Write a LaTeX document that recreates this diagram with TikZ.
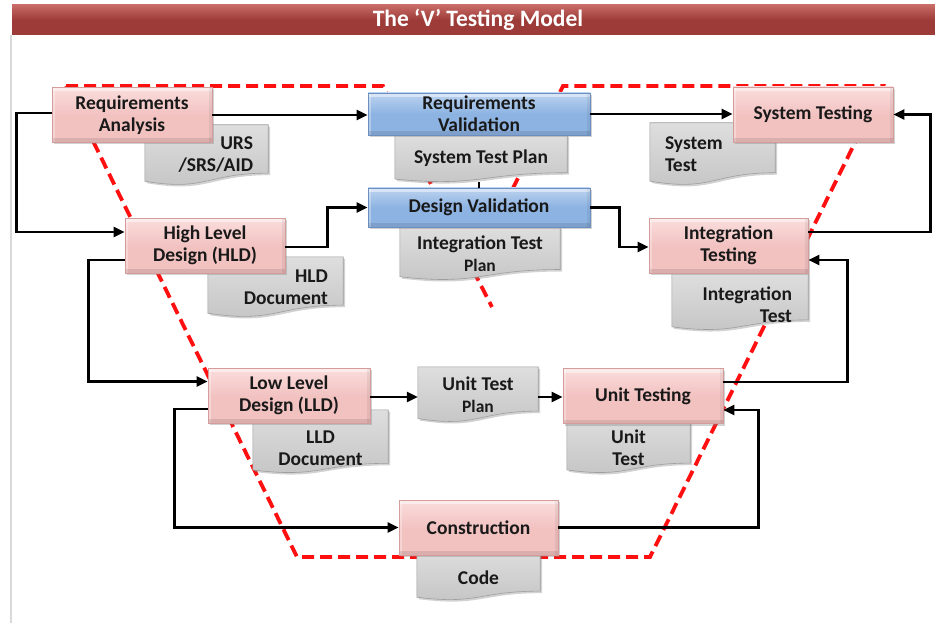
\documentclass[tikz,border=0pt]{standalone}
\usepackage{fontspec}
\setmainfont{Carlito}
\usetikzlibrary{arrows.meta,shadows,calc}
\pgfdeclarelayer{paper}
\pgfdeclarelayer{vline}
\pgfdeclarelayer{docbg}
\pgfsetlayers{paper,vline,docbg,main}

\definecolor{barred}{HTML}{9C3B38}
\definecolor{bartop}{HTML}{C86A66}
\definecolor{pinkfill}{HTML}{F2C2C1}
\definecolor{pinktop}{HTML}{FADEDD}
\definecolor{pinkline}{HTML}{D49C9A}
\definecolor{bluefill}{HTML}{8DB3E2}
\definecolor{bluetop}{HTML}{BCD3F0}
\definecolor{blueline}{HTML}{6A8FC0}
\definecolor{docfill}{HTML}{C4C4C4}
\definecolor{doctop}{HTML}{DEDEDE}
\definecolor{docline}{HTML}{9E9E9E}
\definecolor{vred}{HTML}{FF1010}

\tikzset{
  phase/.style={rectangle, inner sep=0pt, draw=pinkline, line width=0.8pt,
    top color=pinktop, bottom color=pinkfill, middle color=pinkfill,
    minimum width=160pt, minimum height=55pt, align=center,
    font=\fontsize{19.5}{22}\selectfont\bfseries, text=black!90,
    path picture={
      \fill[white, opacity=0.45] (path picture bounding box.north west) rectangle ([yshift=-4pt]path picture bounding box.north east);
      \fill[white, opacity=0.3] (path picture bounding box.north west) rectangle ([xshift=3pt]path picture bounding box.south west);
      \fill[black, opacity=0.1] ([yshift=4pt]path picture bounding box.south west) rectangle (path picture bounding box.south east);
      \fill[black, opacity=0.06] ([xshift=-3pt]path picture bounding box.north east) rectangle (path picture bounding box.south east);},
    drop shadow={opacity=0.35, shadow xshift=2pt, shadow yshift=-2pt}},
  check/.style={phase, draw=blueline, top color=bluetop, bottom color=bluefill,
    middle color=bluefill, minimum width=222pt},
  doc/.style={rectangle, inner sep=0pt, inner xsep=15pt,
    font=\fontsize{19.5}{22}\selectfont\bfseries, text=black!90},
  docshape/.style={draw=docline, line width=0.6pt, top color=doctop, bottom color=docfill,
    drop shadow={opacity=0.35, shadow xshift=2pt, shadow yshift=-2pt}},
  flow/.style={line width=2.4pt, -{Triangle[length=11pt,width=10pt]}},
  vshape/.style={vred, line width=3.8pt, dash pattern=on 12pt off 6pt}
}

\begin{document}
\begin{tikzpicture}[x=1pt,y=-1pt]
\useasboundingbox (0,0) rectangle (935,623);
\begin{pgfonlayer}{paper}
\fill[white] (0,0) rectangle (935,623);
\end{pgfonlayer}

% title bar
\shade[top color=bartop, bottom color=barred, middle color=barred] (12,5) rectangle (935,35);
\node[font=\fontsize{23.5}{26}\selectfont\bfseries, text=white] (title) at (478,20) {The ‘V’ Testing Model};
\draw[black!15, line width=1.5pt] (11,35) -- (11,623);

% the V
\begin{pgfonlayer}{vline}
\draw[vshape] (66,86) -- (383,86) -- (473,270) -- (563,86) -- (883,86) -- (650,557) -- (297,557) -- cycle;
\draw[vshape] (473,270) -- (492,307);
\end{pgfonlayer}

% documents
\node[doc, text width=93pt, align=right, minimum height=60pt] (urs) at (206.5,155) {URS\\/SRS/AID};
\node[doc, minimum width=172pt, minimum height=47pt, align=center] (stp) at (481,158.5) {System Test Plan};
\node[doc, minimum width=160pt, minimum height=53pt, align=center] (itp) at (480,253.5) {Integration Test\\{\fontsize{17.5}{20}\selectfont\bfseries Plan}};
\node[doc, text width=105pt, align=right, minimum height=60pt] (hldd) at (275.5,287) {HLD\\Document};
\node[doc, text width=95pt, align=left, minimum height=62pt] (sdoc) at (712.5,154) {System\\Test};
\node[doc, inner xsep=16pt, text width=104pt, align=right, minimum height=51pt] (itd) at (740,304.5) {Integration\\Test};
\node[doc, minimum width=135pt, minimum height=49pt, align=center] (lldd) at (320.5,448.5) {LLD\\Document};
\node[doc, minimum width=120pt, minimum height=55pt, align=center] (utp) at (478,394.5) {Unit Test\\{\fontsize{17.5}{20}\selectfont\bfseries Plan}};
\node[doc, minimum width=123pt, minimum height=50pt, align=center] (udoc) at (628.5,448) {Unit\\Test};
\node[doc, minimum width=123pt, minimum height=45pt, align=center] (code) at (478.5,577.5) {Code};

\begin{pgfonlayer}{docbg}
\foreach \dname/\dup in {urs/0,stp/0,itp/0,hldd/0,sdoc/0,itd/6,lldd/14,utp/0,udoc/8,code/6}
  \path[docshape] let \p1=(\dname.north west), \p2=(\dname.south east) in
    (\x1,{\y1+\dup}) -- (\x2,{\y1+\dup}) -- (\x2,{\y2+0.2*(\y1-\y2)})
    .. controls ({0.5*(\x1+\x2)},{\y2+0.2*(\y1-\y2)}) and ({0.5*(\x1+\x2)},{\y2-0.107*(\y1-\y2)})
    .. (\x1,{\y2+0.066*(\y1-\y2)}) -- cycle;
\end{pgfonlayer}

% phases
\node[phase] (ra) at (132,115) {Requirements\\Analysis};
\node[check, minimum height=42pt] (rv) at (479,114) {Requirements\\Validation};
\node[phase] (st) at (813,114.5) {System Testing};
\node[phase] (hld) at (205,245.5) {High Level\\Design (HLD)};
\node[check, minimum height=39pt] (dv) at (479,207.5) {Design Validation};
\node[phase, minimum width=159pt] (it) at (728.5,245.5) {Integration\\Testing};
\node[phase, minimum width=162pt] (lld) at (289,395.5) {Low Level\\Design (LLD)};
\node[phase] (ut) at (643,396) {Unit Testing};
\node[phase, minimum width=159pt] (con) at (478.5,527.5) {Construction};

% connectors
\draw[flow] (ra.east) -- (ra.east -| rv.west);
\draw[flow] (rv.east) -- (rv.east -| st.west);
\draw[flow] ([yshift=2pt]ra.west) -- ++(-35,0) |- ([yshift=13.5pt]hld.west);
\draw[flow] ([yshift=-1.5pt]hld.east) -- ++(42,0) |- (dv.west);
\draw[flow] (dv.east) -- ++(29,0) |- ([yshift=-1.5pt]it.west);
\draw[flow] ([yshift=13.5pt]it.east) -- ++(122,0) |- (st.east);
\draw[flow] ([yshift=-14.5pt]hld.west) -- ++(-36,0) |- ([yshift=14pt]lld.west);
\draw[flow] ([yshift=-1.5pt]lld.east) -- ([yshift=-1.5pt]lld.east -| utp.west);
\draw[flow] ([yshift=-1pt]ut.west -| utp.east) -- ([yshift=-1pt]ut.west);
\draw[flow] ([yshift=14pt]ut.east) -- ++(124,0) |- ([yshift=-14.5pt]it.east);
\draw[flow] ([yshift=-13.5pt]lld.west) -- ++(-33,0) |- (con.west);
\draw[flow] (con.east) -- ++(200,0) |- ([yshift=-14pt]ut.east);
\draw[line width=2pt] (dv.north) -- (dv.north |- stp.south);
\end{tikzpicture}
\end{document}
